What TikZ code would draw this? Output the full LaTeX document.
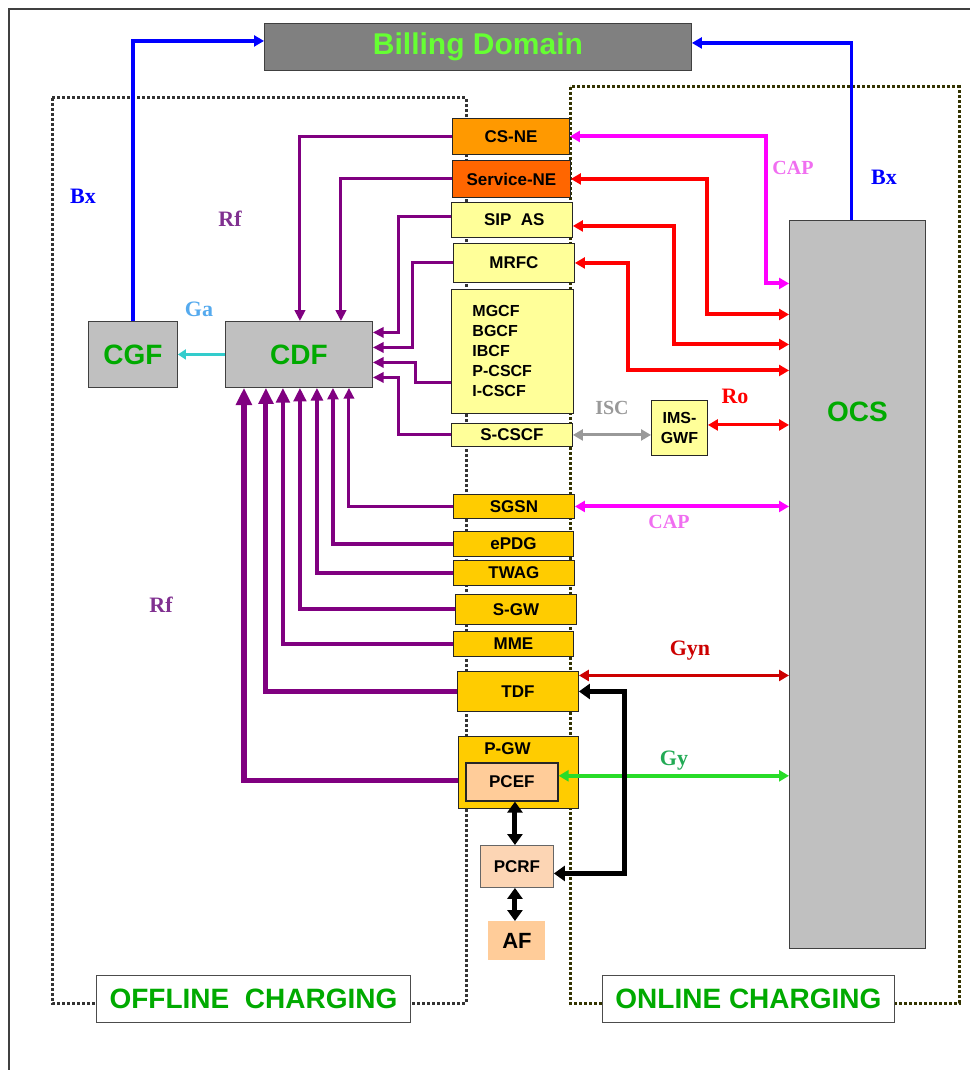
\documentclass[tikz,border=0pt]{standalone}
\usepackage{fontspec}
\setmainfont{Liberation Sans}
\newfontfamily\labelserif{Liberation Serif}
\usetikzlibrary{arrows.meta,positioning}
\definecolor{billgray}{RGB}{128,128,128}
\definecolor{billtext}{RGB}{102,255,51}
\definecolor{boxgray}{RGB}{192,192,192}
\definecolor{chargegreen}{RGB}{0,170,0}
\definecolor{csneorange}{RGB}{255,153,0}
\definecolor{svcorange}{RGB}{255,102,0}
\definecolor{imsyellow}{RGB}{255,255,153}
\definecolor{gwyellow}{RGB}{255,204,0}
\definecolor{pcefpeach}{RGB}{255,204,153}
\definecolor{pcrfpeach}{RGB}{252,213,180}
\definecolor{rfpurple}{RGB}{128,0,128}
\definecolor{rflabel}{RGB}{128,48,144}
\definecolor{bxblue}{RGB}{0,0,255}
\definecolor{gacyan}{RGB}{51,204,204}
\definecolor{galabel}{RGB}{85,170,238}
\definecolor{capmagenta}{RGB}{255,0,255}
\definecolor{caplabel}{RGB}{240,110,240}
\definecolor{iscgray}{RGB}{153,153,153}
\definecolor{rored}{RGB}{255,0,0}
\definecolor{gynred}{RGB}{204,0,0}
\definecolor{gygreen}{RGB}{40,220,40}
\definecolor{gylabel}{RGB}{34,170,85}
\definecolor{offdotcolor}{RGB}{51,51,51}
\definecolor{ondotcolor}{RGB}{51,51,0}
\definecolor{framecolor}{RGB}{64,64,64}
\tikzset{
boxtext/.style={
  font=\fontsize{17}{20}\selectfont\bfseries,
  text=black,
  align=center
},
nebox/.style={
  draw=black!85,
  line width=0.9pt,
  anchor=north west,
  inner sep=0pt,
  boxtext
},
cftext/.style={
  font=\fontsize{28}{30}\selectfont\bfseries,
  text=chargegreen
},
cfbox/.style={
  draw=black!75,
  line width=0.9pt,
  fill=boxgray,
  anchor=north west,
  inner sep=0pt,
  cftext
},
chargelabel/.style={
  draw=black!70,
  line width=0.9pt,
  fill=white,
  anchor=north west,
  inner sep=0pt,
  font=\fontsize{28}{30}\selectfont\bfseries,
  text=chargegreen
},
ifacelabel/.style={
  font=\labelserif\fontsize{22}{24}\selectfont\bfseries
},
smalliface/.style={
  font=\labelserif\fontsize{20}{22}\selectfont\bfseries
},
dotbox/.style={
  line width=3pt,
  dash pattern=on 3pt off 2pt
},
rfline/.style={
  draw=rfpurple,
  line width=#1,
  -{Triangle[length=3pt 2.6,width=4pt 2.1]}
},
rfline/.default=3pt,
bxline/.style={
  draw=bxblue,
  line width=3.5pt,
  -{Triangle[length=10pt,width=11pt]}
},
galine/.style={
  draw=gacyan,
  line width=3pt,
  -{Triangle[length=8pt,width=10pt]}
},
redline/.style={
  draw=rored,
  line width=4pt,
  {Triangle[length=10pt,width=11pt]}-{Triangle[length=10pt,width=11pt]}
},
capline/.style={
  redline,
  draw=capmagenta
},
thinpair/.style={
  line width=3pt,
  {Triangle[length=10pt,width=11pt]}-{Triangle[length=10pt,width=11pt]}
},
blackline/.style={
  draw=black,
  line width=5pt,
  {Triangle[length=11pt,width=15pt]}-{Triangle[length=11pt,width=15pt]}
}
}
\begin{document}
\begin{tikzpicture}[x=1pt,y=-1pt]
  \useasboundingbox (0,0) rectangle (970,1070);
  % outer frame and the two charging areas
  \draw[framecolor, line width=1.2pt] (9,1070) |- (970,9);
  \draw[dotbox, offdotcolor] (52,98) rectangle (466,1003);
  \draw[dotbox, ondotcolor] (570,87) rectangle (959,1003);

  \node[cfbox, fill=billgray, text=billtext, font=\fontsize{30}{32}\selectfont\bfseries,
    minimum width=427pt, minimum height=47pt] (billing) at (264,23) {Billing Domain};

  % network elements
  \node[nebox, fill=csneorange, minimum width=117pt, minimum height=36pt] (csne) at (452,118) {CS-NE};
  \node[nebox, fill=svcorange, minimum width=118pt, minimum height=37pt] (svcne) at (452,160) {Service-NE};
  \node[nebox, fill=imsyellow, minimum width=121pt, minimum height=35pt] (sipas) at (451,202) {\ SIP\ \ AS};
  \node[nebox, fill=imsyellow, minimum width=121pt, minimum height=39pt] (mrfc) at (453,243) {MRFC};
  \node[nebox, fill=imsyellow, minimum width=122pt, minimum height=124pt,
    text width=80pt, align=left, font=\fontsize{16}{20}\selectfont\bfseries]
    (cscf) at (451,289) {MGCF\\BGCF\\IBCF\\P-CSCF\\I-CSCF};
  \node[nebox, fill=imsyellow, minimum width=121pt, minimum height=23pt] (scscf) at (451,423) {S-CSCF};
  \node[nebox, fill=imsyellow, minimum width=56pt, minimum height=55pt,
    font=\fontsize{16}{20}\selectfont\bfseries] (imsgwf) at (651,400) {IMS-\\GWF};
  \node[nebox, fill=gwyellow, minimum width=121pt, minimum height=24pt] (sgsn) at (453,494) {SGSN};
  \node[nebox, fill=gwyellow, minimum width=120pt, minimum height=25pt] (epdg) at (453,531) {ePDG};
  \node[nebox, fill=gwyellow, minimum width=121pt, minimum height=25pt] (twag) at (453,560) {TWAG};
  \node[nebox, fill=gwyellow, minimum width=121pt, minimum height=30pt] (sgw) at (455,594) {S-GW};
  \node[nebox, fill=gwyellow, minimum width=120pt, minimum height=25pt] (mme) at (453,631) {MME};
  \node[nebox, fill=gwyellow, minimum width=121pt, minimum height=40pt] (tdf) at (457,671) {TDF};
  \node[nebox, fill=gwyellow, minimum width=120pt, minimum height=72pt,
    label={[boxtext, anchor=center, xshift=-11pt, yshift=-13pt]north:P-GW}] (pgw) at (458,736) {};
  \node[nebox, fill=pcefpeach, line width=1.6pt, minimum width=92pt, minimum height=38pt] (pcef) at (465,762) {PCEF};
  \node[nebox, fill=pcrfpeach, draw=black!60, minimum width=73pt, minimum height=42pt] (pcrf) at (480,845) {PCRF};
  \node[nebox, draw=none, fill=pcefpeach, minimum width=57pt, minimum height=39pt,
    font=\fontsize{22}{24}\selectfont\bfseries] (af) at (488,921) {AF};

  % charging functions
  \node[cfbox, minimum width=89pt, minimum height=66pt] (cgf) at (88,321) {CGF};
  \node[cfbox, minimum width=147pt, minimum height=66pt] (cdf) at (225,321) {CDF};
  \node[cfbox, minimum width=136pt, minimum height=728pt,
    label={[cftext, yshift=173pt]center:OCS}] (ocs) at (789,220) {};

  \node[chargelabel, minimum width=314pt, minimum height=47pt] (offline) at (96,975) {OFFLINE\ \ CHARGING};
  \node[chargelabel, minimum width=292pt, minimum height=47pt] (online) at (602,975) {ONLINE CHARGING};

  % Bx and Ga
  \draw[bxline] (cgf.north) |- ([yshift=6pt]billing.west);
  \draw[bxline] ([xshift=-6pt]ocs.north) |- ([yshift=4pt]billing.east);
  \draw[galine] (cdf.west) -- (cgf.east);

  % Rf towards CDF
  \draw[rfline] (csne.west) -| ([xshift=1pt]cdf.north);
  \draw[rfline] (svcne.west) -| ([xshift=42pt]cdf.north);
  \draw[rfline] ([yshift=3pt]sipas.west) -- ++(-53,0) |- ([yshift=22pt]cdf.east);
  \draw[rfline] (mrfc.west) -- ++(-41,0) |- ([yshift=7pt]cdf.east);
  \draw[rfline] ([yshift=-31pt]cscf.west) -- ++(-36,0) |- ([yshift=-8pt]cdf.east);
  \draw[rfline] (scscf.west) -- ++(-53,0) |- ([yshift=-23pt]cdf.east);
  \draw[rfline=3pt] (sgsn.west) -| ([xshift=50pt]cdf.south);
  \draw[rfline=3.3pt] (epdg.west) -| ([xshift=34pt]cdf.south);
  \draw[rfline=3.7pt] (twag.west) -| ([xshift=18pt]cdf.south);
  \draw[rfline=4pt] (sgw.west) -| ([xshift=1pt]cdf.south);
  \draw[rfline=4.5pt] (mme.west) -| ([xshift=-16pt]cdf.south);
  \draw[rfline=5pt] (tdf.west) -| ([xshift=-33pt]cdf.south);
  \draw[rfline=5.5pt] ([yshift=-8pt]pgw.west) -| ([xshift=-55pt]cdf.south);

  % online side
  \draw[capline] (csne.east) -- ++(196,0) |- ([yshift=301pt]ocs.west);
  \draw[redline] (svcne.east) -- ++(136,0) |- ([yshift=270pt]ocs.west);
  \draw[redline] ([yshift=-6pt]sipas.east) -- ++(101,0) |- ([yshift=240pt]ocs.west);
  \draw[redline] (mrfc.east) -- ++(53,0) |- ([yshift=214pt]ocs.west);
  \draw[thinpair, draw=iscgray] (scscf.east) -- (imsgwf.west |- scscf.east);
  \draw[thinpair, draw=rored] ([yshift=3pt]imsgwf.east) -- ([yshift=3pt]ocs.west |- imsgwf.east);
  \draw[capline] (sgsn.east) -- (ocs.west |- sgsn.east);
  \draw[thinpair, draw=gynred, line width=2.5pt] ([yshift=16pt]tdf.east) -- ([yshift=16pt]ocs.west |- tdf.east);
  \draw[thinpair, draw=gygreen, line width=3.5pt] ([yshift=6pt]pcef.east) -- ([yshift=6pt]ocs.west |- pcef.east);
  \draw[blackline] (tdf.east) -- ++(46,0) |- ([yshift=-7pt]pcrf.east);
  \draw[blackline] ([xshift=-2pt]pcrf.north |- pcef.south) -- ([xshift=-2pt]pcrf.north);
  \draw[blackline] ([xshift=-2pt]pcrf.south) -- ([xshift=-2pt]af.north);

  % interface names
  \node[ifacelabel, text=bxblue] (bxoff) at (83,196) {Bx};
  \node[ifacelabel, text=bxblue] (bxon) at (884,177) {Bx};
  \node[ifacelabel, text=rflabel] (rftop) at (230,219) {Rf};
  \node[ifacelabel, text=rflabel] (rfbottom) at (161,605) {Rf};
  \node[ifacelabel, text=galabel] (galbl) at (199,309) {Ga};
  \node[smalliface, text=caplabel] (capup) at (793,168) {CAP};
  \node[smalliface, text=caplabel] (capdown) at (669,522) {CAP};
  \node[smalliface, text=iscgray] (isclbl) at (612,408) {ISC};
  \node[ifacelabel, text=rored] (rolbl) at (735,396) {Ro};
  \node[ifacelabel, text=gynred] (gynlbl) at (690,651) {Gyn};
  \node[ifacelabel, text=gylabel] (gylbl) at (674,761) {Gy};
\end{tikzpicture}
\end{document}
